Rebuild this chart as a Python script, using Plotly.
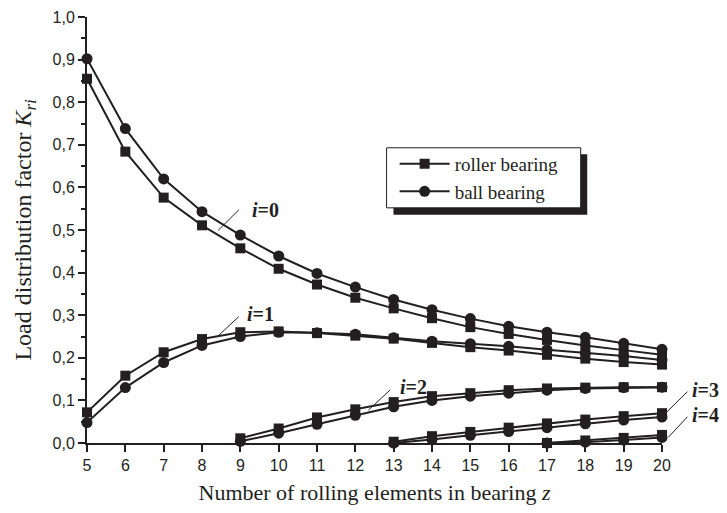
import plotly.graph_objects as go

# ---------------- data ----------------
z_all = [5, 6, 7, 8, 9, 10, 11, 12, 13, 14, 15, 16, 17, 18, 19, 20]
z_i2 = [9, 10, 11, 12, 13, 14, 15, 16, 17, 18, 19, 20]
z_i3 = [13, 14, 15, 16, 17, 18, 19, 20]
z_i4 = [17, 18, 19, 20]

roller_i0 = [0.855, 0.684, 0.576, 0.511, 0.457, 0.409, 0.372, 0.341, 0.316, 0.293, 0.272, 0.256, 0.242, 0.229, 0.218, 0.207]
ball_i0 = [0.902, 0.738, 0.620, 0.543, 0.488, 0.439, 0.398, 0.366, 0.337, 0.313, 0.292, 0.274, 0.260, 0.248, 0.234, 0.220]
roller_i1 = [0.072, 0.158, 0.213, 0.244, 0.260, 0.262, 0.258, 0.252, 0.245, 0.235, 0.225, 0.217, 0.207, 0.198, 0.190, 0.184]
ball_i1 = [0.048, 0.130, 0.189, 0.229, 0.250, 0.260, 0.259, 0.255, 0.247, 0.239, 0.233, 0.227, 0.219, 0.212, 0.204, 0.195]
roller_i2 = [0.011, 0.034, 0.060, 0.079, 0.096, 0.110, 0.117, 0.124, 0.128, 0.130, 0.131, 0.131]
ball_i2 = [0.004, 0.023, 0.044, 0.065, 0.085, 0.100, 0.110, 0.117, 0.124, 0.128, 0.130, 0.131]
roller_i3 = [0.003, 0.016, 0.026, 0.036, 0.046, 0.055, 0.063, 0.070]
ball_i3 = [0.000, 0.008, 0.018, 0.027, 0.036, 0.045, 0.054, 0.061]
roller_i4 = [0.000, 0.006, 0.012, 0.019]
ball_i4 = [0.000, 0.002, 0.007, 0.013]

x_ticks = list(range(5, 21))
y_ticks = [round(0.1 * k, 1) for k in range(11)]

# curve labels (data coords): text x, text y, leader tail x, tail y, head x, head y
labels = [
    ("0", 9.26, 0.546, 9.00, 0.551, 8.42, 0.499),
    ("1", 9.13, 0.304, 9.00, 0.300, 8.39, 0.249),
    ("2", 13.12, 0.132, 12.95, 0.128, 12.34, 0.077),
    ("3", 20.73, 0.124, 20.70, 0.124, 20.13, 0.073),
    ("4", 20.73, 0.065, 20.70, 0.065, 20.17, 0.014),
]

INK = "#231f20"
SERIF = "Liberation Serif"
SANS = "Liberation Sans"
X_MIN, X_MAX = 5, 20
# page body adds an 8px offset; keep the figure inside the window
W, H = 719, 497
L, R, T, B = 79, 65, 9, 62
px_per_x = (W - L - R) / (X_MAX - X_MIN)
px_per_y = (H - T - B) / 1.0

fig = go.Figure()

series = [
    (z_all, roller_i0, ball_i0, True),
    (z_all, roller_i1, ball_i1, False),
    (z_i2, roller_i2, ball_i2, False),
    (z_i3, roller_i3, ball_i3, False),
    (z_i4, roller_i4, ball_i4, False),
]
for zs, rv, bv, show in series:
    fig.add_trace(go.Scatter(
        x=zs, y=rv, mode="lines+markers", name="roller bearing",
        legendgroup="roller", showlegend=show,
        line=dict(color=INK, width=2),
        marker=dict(symbol="square", size=10, color=INK),
        cliponaxis=False,
    ))
    fig.add_trace(go.Scatter(
        x=zs, y=bv, mode="lines+markers", name="ball bearing",
        legendgroup="ball", showlegend=show,
        line=dict(color=INK, width=2),
        marker=dict(symbol="circle", size=11, color=INK),
        cliponaxis=False,
    ))

def xpaper(v):
    return (v - X_MIN) / (X_MAX - X_MIN)

for num, tx, ty, ax, ay, hx, hy in labels:
    # paper x reference so labels outside the axis range stay visible
    fig.add_annotation(x=xpaper(tx), y=ty, xref="paper", yref="y",
                       text="<b><i>i</i>=%s</b>" % num,
                       showarrow=False, xanchor="left", yanchor="middle",
                       font=dict(family=SERIF, size=20, color=INK))
    fig.add_annotation(x=xpaper(hx), y=hy, xref="paper", yref="y",
                       ax=(ax - hx) * px_per_x, ay=-(ay - hy) * px_per_y,
                       text="", showarrow=True, arrowhead=0, arrowwidth=1, arrowcolor=INK,
                       standoff=0, startstandoff=0)

# legend box with drop shadow
fig.add_shape(type="rect", xref="paper", yref="paper", x0=0.533, x1=0.870, y0=0.536, y1=0.678,
              fillcolor=INK, line=dict(width=0), layer="below")
fig.add_shape(type="rect", xref="paper", yref="paper", x0=0.521, x1=0.8586, y0=0.552, y1=0.693,
              fillcolor="white", line=dict(color=INK, width=1), layer="below")

fig.update_layout(
    width=W, height=H,
    margin=dict(l=L, r=R, t=T, b=B, autoexpand=False),
    paper_bgcolor="white", plot_bgcolor="white",
    separators=", ",
    showlegend=True,
    legend=dict(x=0.535, y=0.70, xanchor="left", yanchor="top",
                bgcolor="rgba(0,0,0,0)", borderwidth=0,
                font=dict(family=SERIF, size=19, color=INK),
                itemwidth=50, tracegroupgap=0),
    xaxis=dict(range=[X_MIN, X_MAX], tickmode="array", tickvals=x_ticks, automargin=False,
               ticks="outside", ticklen=7, tickwidth=1.5, tickcolor=INK,
               showline=True, linecolor=INK, linewidth=2, showgrid=False, zeroline=False,
               tickfont=dict(family=SANS, size=16, color=INK),
               title=dict(text="Number of rolling elements in bearing <i>z</i>",
                          font=dict(family=SERIF, size=22, color=INK), standoff=11)),
    yaxis=dict(range=[0, 1.0], tickmode="array", tickvals=y_ticks, tickformat=".1f", automargin=False,
               ticks="outside", ticklen=7, tickwidth=1.5, tickcolor=INK,
               minor=dict(dtick=0.05, ticks="outside", ticklen=4, tickwidth=1.5, tickcolor=INK),
               showline=True, linecolor=INK, linewidth=2, showgrid=False, zeroline=False,
               tickfont=dict(family=SANS, size=16, color=INK),
               title=dict(text="Load distribution factor <i>K</i><sub><i>ri</i></sub>",
                          font=dict(family=SERIF, size=24, color=INK), standoff=14)),
)

fig.write_html("out.html")
